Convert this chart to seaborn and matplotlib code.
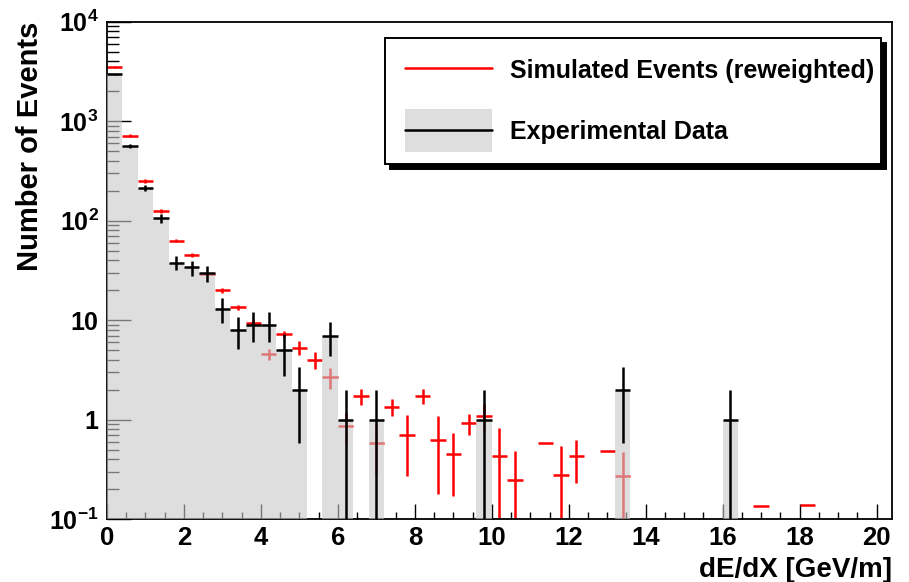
import numpy as np
import pandas as pd
import matplotlib
matplotlib.use("Agg")
import matplotlib.pyplot as plt
import seaborn as sns
from matplotlib.lines import Line2D
from matplotlib.patches import Patch, Rectangle
from matplotlib.legend_handler import HandlerBase
from matplotlib.ticker import LogLocator, NullFormatter, MultipleLocator, FixedLocator

# 51 bins of 0.4 GeV/m from 0 to 20.4
bin_edges = np.linspace(0.0, 20.4, 52)

# Experimental counts per bin
data_counts = [2950, 561, 215, 106, 38, 34, 30, 13, 8, 9,
               9, 5, 2, 0, 7, 1, 0, 1, 0, 0,
               0, 0, 0, 0, 1, 0, 0, 0, 0, 0,
               0, 0, 0, 2, 0, 0, 0, 0, 0, 0,
               1, 0, 0, 0, 0, 0, 0, 0, 0, 0,
               0]

# Reweighted simulation per bin and its uncertainty
sim_values = [3500, 712, 251, 126, 63, 45, 29, 20, 13.5, 9.4,
              4.55, 7.3, 5.3, 4.0, 2.68, 0.87, 1.73, 0.58, 1.35, 0.70,
              1.74, 0.63, 0.45, 0.93, 1.10, 0.43, 0.25, 0, 0.59, 0.28,
              0.43, 0, 0.49, 0.27, 0, 0, 0, 0, 0, 0,
              0, 0, 0.137, 0, 0, 0.139, 0, 0, 0, 0,
              0]
sim_errors = [60, 25, 10, 5, 2.5, 2.0, 1.6, 1.2, 0.9, 0.8,
              0.6, 0.5, 0.87, 0.75, 0.63, 0.3, 0.31, 0.3, 0.26, 0.43,
              0.29, 0.45, 0.28, 0.22, 0.35, 0.39, 0.24, 0, 0, 0.26,
              0.2, 0, 0, 0.21, 0, 0, 0, 0, 0, 0,
              0, 0, 0, 0, 0, 0, 0, 0, 0, 0,
              0]

y_tick_values = [0.1, 1, 10, 100, 1000, 10000]
y_tick_labels = [r"$10^{-1}$", "1", "10", r"$10^{2}$", r"$10^{3}$", r"$10^{4}$"]
x_tick_values = list(range(0, 21, 2))

sim_label = "Simulated Events (reweighted)"
data_label = "Experimental Data"

sns.set_theme(style="ticks")
plt.rcParams["font.family"] = ["Liberation Sans", "DejaVu Sans"]
plt.rcParams["font.weight"] = "bold"
plt.rcParams["mathtext.fontset"] = "custom"
plt.rcParams["mathtext.rm"] = "Liberation Sans:bold"
plt.rcParams["mathtext.it"] = "Liberation Sans:bold"
plt.rcParams["mathtext.bf"] = "Liberation Sans:bold"
plt.rcParams["mathtext.default"] = "rm"
plt.rcParams["axes.unicode_minus"] = False
for key in ("text.color", "axes.labelcolor", "xtick.color", "ytick.color",
            "xtick.labelcolor", "ytick.labelcolor", "axes.edgecolor"):
    plt.rcParams[key] = "black"

centers = 0.5 * (bin_edges[:-1] + bin_edges[1:])
half_width = 0.5 * np.diff(bin_edges)
df = pd.DataFrame({
    "dedx": centers,
    "half": half_width,
    "data": data_counts,
    "sim": sim_values,
    "sim_err": sim_errors,
})

fill_color = "#c8c8c8"
fill_alpha = 0.6

fig = plt.figure(figsize=(9.09, 5.82), dpi=100)
ax = fig.add_axes([0.1177, 0.1077, 0.8636, 0.855])

# Simulation crosses sit underneath the data histogram fill
sim = df[df["sim"] > 0]
ax.errorbar(sim["dedx"], sim["sim"], yerr=sim["sim_err"], xerr=sim["half"],
            fmt="none", ecolor="red", elinewidth=1.8, capsize=0, zorder=2)

# Data histogram (filled)
sns.histplot(data=df, x="dedx", weights="data", bins=list(bin_edges),
             element="step", fill=True, color=fill_color, alpha=fill_alpha,
             linewidth=0, zorder=3, ax=ax)

# Data points with Poisson errors
dat = df[df["data"] > 0]
ax.errorbar(dat["dedx"], dat["data"], yerr=np.sqrt(dat["data"]), xerr=dat["half"],
            fmt="none", ecolor="black", elinewidth=1.8, capsize=0, zorder=4)

ax.set_yscale("log", nonpositive="clip")
ax.set_ylim(0.1, 1e4)
ax.set_xlim(0, 20.4)

ax.yaxis.set_major_locator(FixedLocator(y_tick_values))
ax.set_yticklabels(y_tick_labels)
ax.yaxis.set_minor_locator(LogLocator(base=10, subs=np.arange(2, 10), numticks=30))
ax.yaxis.set_minor_formatter(NullFormatter())
ax.xaxis.set_major_locator(FixedLocator(x_tick_values))
ax.set_xticklabels([str(v) for v in x_tick_values])
ax.xaxis.set_minor_locator(MultipleLocator(0.5))

ax.tick_params(axis="y", which="major", direction="in", length=17, width=1.0,
               color="black", labelcolor="black", labelsize=18, pad=6)
ax.tick_params(axis="y", which="minor", direction="in", length=8.5, width=1.0, color="black")
ax.tick_params(axis="x", which="major", direction="in", length=10.5, width=1.0,
               color="black", labelcolor="black", labelsize=18.5, pad=5)
ax.tick_params(axis="x", which="minor", direction="in", length=5, width=1.0, color="black")
for lab in ax.get_xticklabels() + ax.get_yticklabels():
    lab.set_fontweight("bold")

for sp in ax.spines.values():
    sp.set_visible(True)
    sp.set_color("black")
    sp.set_linewidth(1.3)

ax.set_ylabel("Number of Events", fontsize=21, fontweight="bold", loc="top", color="black")
ax.yaxis.set_label_coords(-0.080, 1.0)
ax.set_xlabel("dE/dX [GeV/m]", fontsize=20, fontweight="bold", loc="right", color="black")
ax.xaxis.set_label_coords(1.0, -0.075)


class BandHandler(HandlerBase):
    """Legend key: filled band with a black line across it."""

    def create_artists(self, legend, orig_handle, xdescent, ydescent,
                       width, height, fontsize, trans):
        band = 1.75 * fontsize
        yc = height / 2 - ydescent
        rect = Rectangle((-xdescent, yc - band / 2), width, band,
                         facecolor=orig_handle.get_facecolor(), edgecolor="none",
                         transform=trans)
        line = Line2D([-xdescent, width - xdescent], [yc, yc], color="black",
                      lw=1.8, transform=trans)
        return [rect, line]


sim_handle = Line2D([], [], color="red", lw=1.8)
data_handle = Patch(facecolor=fill_color, alpha=fill_alpha)

leg = ax.legend([sim_handle, data_handle], [sim_label, data_label],
                loc="upper left", bbox_to_anchor=(0.4235, 0.5, 0.5457, 0.4342),
                bbox_transform=fig.transFigure, mode="expand", borderaxespad=0,
                prop={"size": 18, "weight": "bold"}, handlelength=3.5,
                handleheight=1.0, handletextpad=0.72, borderpad=0.8,
                labelspacing=1.45, frameon=True, fancybox=False, framealpha=1,
                edgecolor="black",
                shadow={"ox": 3.6, "oy": -3.6, "color": "black", "alpha": 1},
                handler_map={data_handle: BandHandler()})
leg.get_frame().set_linewidth(1.4)
for t in leg.get_texts():
    t.set_color("black")

fig.savefig("out.png", dpi=100)
